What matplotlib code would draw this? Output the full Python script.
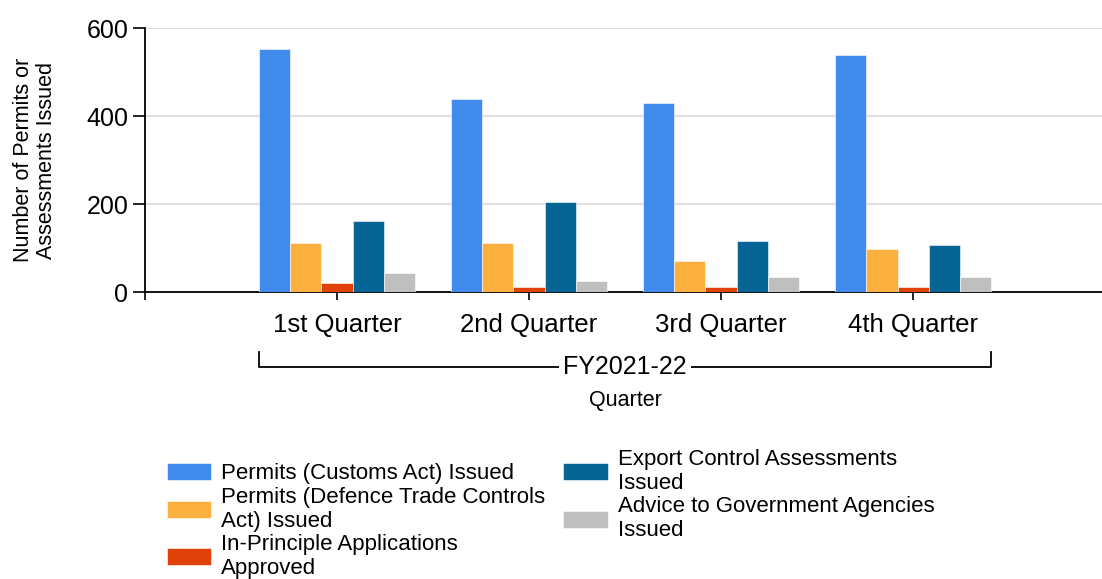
import matplotlib
matplotlib.use("Agg")
import matplotlib.pyplot as plt
import matplotlib.transforms as mtransforms
import numpy as np

plt.rcParams['font.family'] = ['Liberation Sans', 'DejaVu Sans']

quarters = ["1st Quarter", "2nd Quarter", "3rd Quarter", "4th Quarter"]
series_names = [
    "Permits (Customs Act) Issued",
    "Permits (Defence Trade Controls\nAct) Issued",
    "In-Principle Applications\nApproved",
    "Export Control Assessments\nIssued",
    "Advice to Government Agencies\nIssued",
]
customs_act = [552, 439, 430, 539]
defence_trade = [111, 111, 70, 98]
in_principle = [20, 11, 11, 11]
export_control = [161, 206, 116, 107]
advice_gov = [43, 25, 34, 34]
colors = ["#428BEE", "#FBB040", "#E0400A", "#066594", "#BFBFBF"]

series = [customs_act, defence_trade, in_principle, export_control, advice_gov]

fig = plt.figure(figsize=(11.02, 5.79), dpi=100)
ax = fig.add_axes([0.1316, 0.4952, 0.8684, 0.4558])

x = np.arange(len(quarters))
w = 0.162
handles = []
for i, (vals, name, c) in enumerate(zip(series, series_names, colors)):
    b = ax.bar(x + (i - 2) * w, vals, width=w, color=c, label=name, zorder=3,
               edgecolor='white', linewidth=0.4)
    handles.append(b)

ax.set_xlim(-1, 3.984)
ax.set_ylim(0, 600)
ax.set_yticks([0, 200, 400, 600])
ax.yaxis.grid(True, color='#DDDDDD', linewidth=1.3, zorder=0)
ax.set_xticks(x)
ax.set_xticklabels(quarters, fontsize=18.5)
ax.set_xticks([-1], minor=True)
ax.tick_params(axis='x', which='both', length=6, width=1.2, color='black', pad=9)
ax.tick_params(axis='y', labelsize=18, length=9, width=1.2, pad=3)
for side in ['top', 'right']:
    ax.spines[side].set_visible(False)
ax.spines['left'].set_linewidth(1.3)
ax.spines['bottom'].set_linewidth(1.3)
ax.set_ylabel("Number of Permits or\nAssessments Issued", fontsize=15.5,
              linespacing=1.1)
ax.yaxis.set_label_coords(-0.092, 0.5)

# group bracket for fiscal year
trans = mtransforms.blended_transform_factory(ax.transData, ax.transAxes)
y_line, y_top = -0.285, -0.225
ax.plot([-0.405, -0.405, 3.405, 3.405], [y_top, y_line, y_line, y_top], color='black',
        linewidth=1.3, transform=trans, clip_on=False)
ax.text(1.5, y_line, "FY2021-22", transform=trans, ha='center', va='center',
        fontsize=18, bbox=dict(facecolor='white', edgecolor='none', pad=3))
ax.text(1.5, -0.41, "Quarter", transform=trans, ha='center', va='center', fontsize=15.5)

leg = fig.legend(handles=handles, labels=series_names, ncol=2, loc='upper left',
                 bbox_to_anchor=(0.1515, 0.225), frameon=False, fontsize=16,
                 handlelength=2.0, handleheight=0.8, handletextpad=0.45,
                 columnspacing=0.8, labelspacing=0.1, borderpad=0, borderaxespad=0)
for t in leg.get_texts():
    t.set_linespacing(1.2)

fig.savefig("out.png", dpi=100)
